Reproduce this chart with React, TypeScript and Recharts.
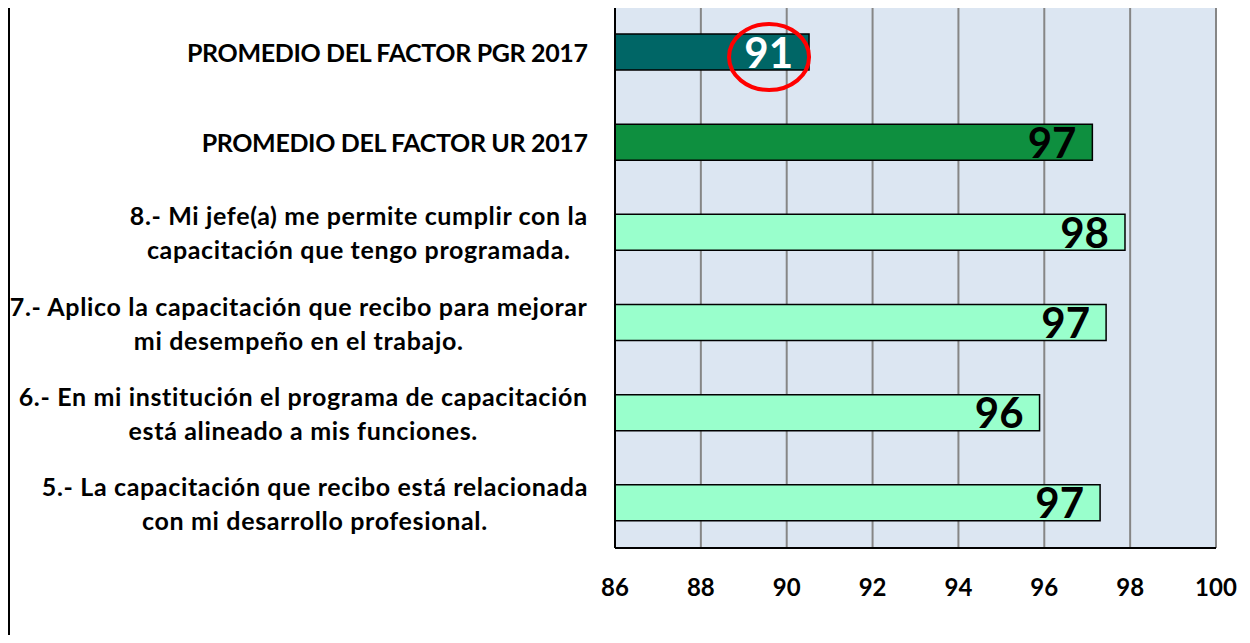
import React from "react";
import { BarChart, Bar, XAxis, YAxis, CartesianGrid, Cell, LabelList } from "recharts";

const categories: string[][] = [
  ["PROMEDIO DEL FACTOR PGR 2017"],
  ["PROMEDIO DEL FACTOR UR 2017"],
  ["8.- Mi jefe(a) me permite cumplir con la", "capacitación que tengo programada."],
  ["7.- Aplico la capacitación que recibo para mejorar", "mi desempeño en el trabajo."],
  ["6.- En mi institución el programa de capacitación", "está alineado a mis funciones."],
  ["5.- La capacitación que recibo está relacionada", "con mi desarrollo profesional."],
];
const values: number[] = [90.52, 97.12, 97.88, 97.44, 95.89, 97.3];
const barColors: string[] = ["#006666", "#0e8f3f", "#99ffcc", "#99ffcc", "#99ffcc", "#99ffcc"];
const labelColors: string[] = ["#ffffff", "#000000", "#000000", "#000000", "#000000", "#000000"];
const xTicks: number[] = [86, 88, 90, 92, 94, 96, 98, 100];

const data = categories.map((c, i) => ({ name: c.join("\n"), value: values[i] }));

const FONT = "Lato, 'Liberation Sans', sans-serif";
const CAT_FONT_SIZE = 25;

let canvasCtx: CanvasRenderingContext2D | null = null;
function spacingFor(text: string): number {
  return /[a-z]/.test(text) ? 0.65 : -0.35;
}
function measure(text: string): number {
  if (!canvasCtx) {
    const c = document.createElement("canvas");
    canvasCtx = c.getContext("2d");
  }
  const ls = spacingFor(text);
  if (!canvasCtx) return text.length * (12 + ls);
  canvasCtx.font = `bold ${CAT_FONT_SIZE}px Lato`;
  return canvasCtx.measureText(text).width + text.length * ls;
}

const CategoryTick = (props: any) => {
  const { x, y, payload } = props;
  const lines: string[] = String(payload.value).split("\n");
  const right = x - 27;
  const maxW = Math.max(...lines.map(measure));
  const cx = right - maxW / 2;
  const lh = 34;
  const startY = y - ((lines.length - 1) * lh) / 2;
  return (
    <g>
      {lines.map((l, i) => (
        <text
          key={i}
          x={cx}
          y={startY + i * lh}
          textAnchor="middle"
          dominantBaseline="central"
          fontFamily={FONT}
          fontWeight="bold"
          fontSize={CAT_FONT_SIZE}
          letterSpacing={spacingFor(l)}
          fill="#000"
        >
          {l}
        </text>
      ))}
    </g>
  );
};

const ValueTick = (props: any) => {
  const { x, y, payload } = props;
  return (
    <text x={x} y={y + 48} textAnchor="middle" fontFamily={FONT} fontWeight="bold" fontSize={24} fill="#000">
      {payload.value}
    </text>
  );
};

const BarLabel = (props: any) => {
  const { x, y, width, height, value, index } = props;
  const tx = x + width - 16;
  const cy = y + height / 2;
  const txt = String(Math.round(value));
  const w = txt.length * 24;
  return (
    <g>
      <text
        x={tx}
        y={cy + 15.5}
        textAnchor="end"
        fontFamily={FONT}
        fontWeight="bold"
        fontSize={42}
        fill={labelColors[index]}
      >
        {txt}
      </text>
      {index === 0 ? (
        <ellipse cx={tx - w / 2} cy={cy + 5} rx={40} ry={33} fill="none" stroke="#ff0000" strokeWidth={4} />
      ) : null}
    </g>
  );
};

export default function App() {
  return (
    <div style={{ position: "relative", margin: -8, width: 1250, height: 643, background: "#fff", fontFamily: FONT }}>
      <div style={{ position: "absolute", left: 8, top: 0, width: 2, height: 643, background: "#000" }} />
      <BarChart
        width={1250}
        height={643}
        data={data}
        layout="vertical"
        margin={{ top: 7, right: 34, bottom: 65, left: 0 }}
        barCategoryGap="60%"
      >
        <CartesianGrid horizontal={false} stroke="#868686" strokeWidth={2} fill="#dce6f2" />
        <XAxis
          type="number"
          domain={[86, 100]}
          ticks={xTicks}
          interval={0}
          allowDataOverflow
          height={30}
          tickLine={false}
          tickSize={0}
          tickMargin={0}
          axisLine={{ stroke: "#000", strokeWidth: 2 }}
          tick={<ValueTick />}
        />
        <YAxis
          type="category"
          dataKey="name"
          width={615}
          interval={0}
          tickLine={false}
          tickSize={0}
          tickMargin={0}
          axisLine={{ stroke: "#000", strokeWidth: 2 }}
          tick={<CategoryTick />}
        />
        <Bar dataKey="value" barSize={36} stroke="#000" strokeWidth={1.5} isAnimationActive={false}>
          {data.map((_, i) => (
            <Cell key={i} fill={barColors[i]} />
          ))}
          <LabelList dataKey="value" content={<BarLabel />} />
        </Bar>
      </BarChart>
    </div>
  );
}
